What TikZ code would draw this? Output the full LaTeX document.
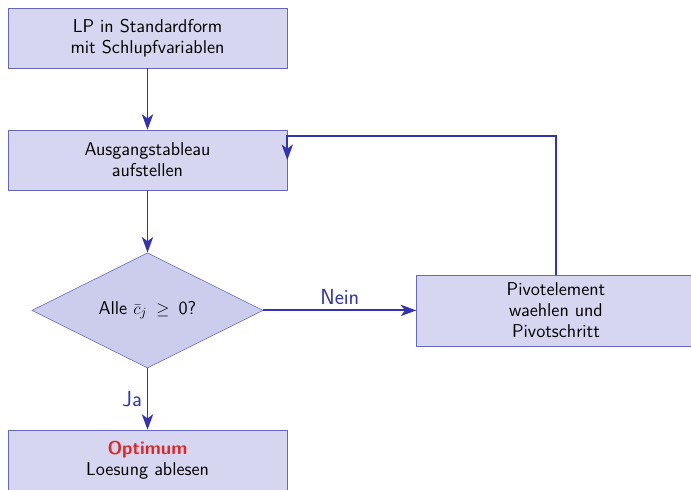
\documentclass[tikz,border=0pt]{standalone}
\usetikzlibrary{shapes.geometric,arrows.meta}

\definecolor{struct}{RGB}{51,51,178}
\definecolor{alertred}{RGB}{220,40,40}

\tikzset{
  box/.style={draw=struct!75,fill=struct!20,minimum width=6.975cm,minimum height=1.5cm,
    align=center,font=\fontsize{13.2}{15}\selectfont\sffamily},
  decide/.style={draw=struct!75,fill=struct!25,diamond,aspect=2,minimum width=5.78cm,
    minimum height=2.88cm,inner sep=0pt,font=\fontsize{13.2}{15}\selectfont\sffamily},
  arr/.style={draw=struct,line width=1.4pt,-{Stealth[length=11pt,width=8pt,inset=3pt]}},
  lbl/.style={text=struct,font=\fontsize{15.5}{18}\selectfont\sffamily}
}

\begin{document}
\begin{tikzpicture}
  \useasboundingbox (0,0) rectangle (17.275,-12.225);
  \begin{scope}
    \clip (0,0) rectangle (17.275,-12.225);
    \node[box] (lp) at (3.6875,-0.95) {LP in Standardform\\mit Schlupfvariablen};
    \node[box] (start) at (3.6875,-4.0) {Ausgangstableau\\aufstellen};
    \node[decide] (test) at (3.6875,-7.76) {Alle $\bar{c}_j$ \,$\geq$\, 0?};
    \node[box,minimum height=1.775cm] (pivot) at (13.9,-7.76) {Pivotelement\\waehlen und\\Pivotschritt};
    \node[box] (opt) at (3.6875,-11.5) {\textcolor{alertred}{\bfseries Optimum}\\Loesung ablesen};
    \coordinate (ret) at (start.east |- 0,-3.4);

    \draw[arr] (lp) -- (start);
    \draw[arr] (start) -- (test);
    \draw[arr] (test) -- node[lbl,above] {Nein} (pivot);
    \draw[arr] (test) -- node[lbl,left] {Ja} (opt);
    \draw[arr] (pivot.north) |- (ret) -- (start.east);
  \end{scope}
\end{tikzpicture}
\end{document}
